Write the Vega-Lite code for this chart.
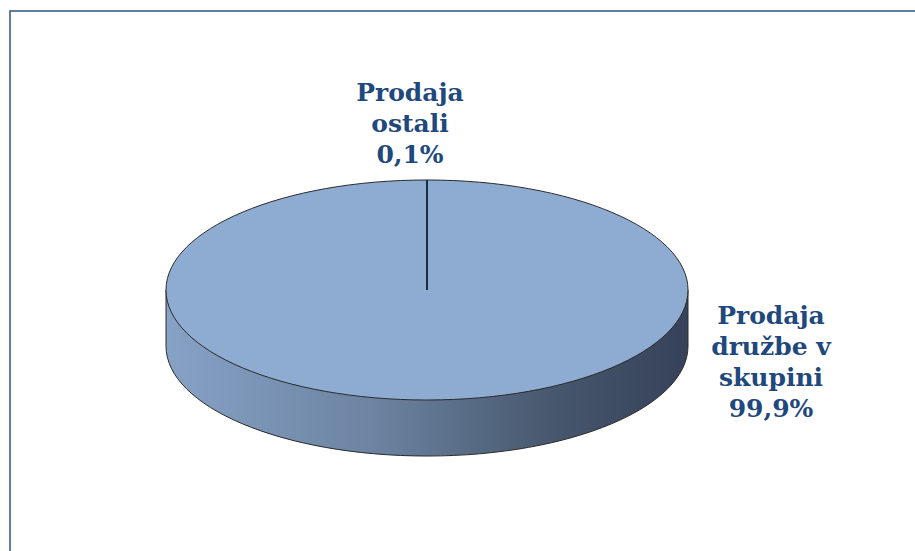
{
  "$schema": "https://vega.github.io/schema/vega-lite/v6.json",
  "autosize": "none",
  "width": 912,
  "height": 548,
  "padding": {"left": 10, "top": 11, "right": -7, "bottom": -8},
  "background": "white",
  "view": {"stroke": "#2b5486", "strokeWidth": 1.5, "fill": "white"},
  "config": {
    "text": {"font": "DejaVu Serif", "fontWeight": "bold", "fontSize": 25, "color": "#1f497d", "lineBreak": "\n", "lineHeight": 31, "align": "center", "baseline": "middle"}
  },
  "data": {
    "values": [
      {"segment": "Prodaja družbe v skupini", "share": 99.9, "label": "Prodaja\ndružbe v\nskupini\n99,9%"},
      {"segment": "Prodaja ostali", "share": 0.1, "label": "Prodaja\nostali\n0,1%"}
    ]
  },
  "layer": [
    {
      "transform": [{"filter": "datum.share > 50"}],
      "mark": {
        "type": "point",
        "shape": "M-1,0 L-1,0.2146 C-1,0.4474 -0.5523,0.6361 0,0.6361 C0.5523,0.6361 1,0.4474 1,0.2146 L1,0 Z",
        "size": 272484,
        "filled": true,
        "opacity": 1,
        "fill": {"gradient": "linear", "x1": 0, "y1": 0, "x2": 1, "y2": 0, "stops": [
          {"offset": 0, "color": "#86a2c6"},
          {"offset": 0.4, "color": "#6c83a1"},
          {"offset": 0.75, "color": "#46566c"},
          {"offset": 1, "color": "#36425a"}
        ]},
        "stroke": "#2a2a2a",
        "strokeWidth": 1,
        "xOffset": -39,
        "yOffset": 5
      }
    },
    {
      "transform": [{"filter": "datum.share > 50"}],
      "mark": {
        "type": "point",
        "shape": "M1,0 C1,0.2328 0.5523,0.4215 0,0.4215 C-0.5523,0.4215 -1,0.2328 -1,0 C-1,-0.2328 -0.5523,-0.4215 0,-0.4215 C0.5523,-0.4215 1,-0.2328 1,0 Z",
        "size": 272484,
        "filled": true,
        "opacity": 1,
        "fill": "#8eacd2",
        "stroke": "#2a2a2a",
        "strokeWidth": 1,
        "xOffset": -39,
        "yOffset": 5
      }
    },
    {
      "transform": [{"filter": "datum.share < 50"}],
      "mark": {
        "type": "point",
        "shape": "M0,0 L0,-0.4215",
        "size": 272484,
        "filled": false,
        "opacity": 1,
        "stroke": "#1c2a40",
        "strokeWidth": 2,
        "xOffset": -39,
        "yOffset": 5
      }
    },
    {
      "transform": [{"filter": "datum.share < 50"}],
      "mark": {"type": "text", "dx": -56, "dy": -192},
      "encoding": {"text": {"field": "label", "type": "nominal"}}
    },
    {
      "transform": [{"filter": "datum.share > 50"}],
      "mark": {"type": "text", "dx": 305, "dy": 30.5},
      "encoding": {"text": {"field": "label", "type": "nominal"}}
    }
  ]
}
